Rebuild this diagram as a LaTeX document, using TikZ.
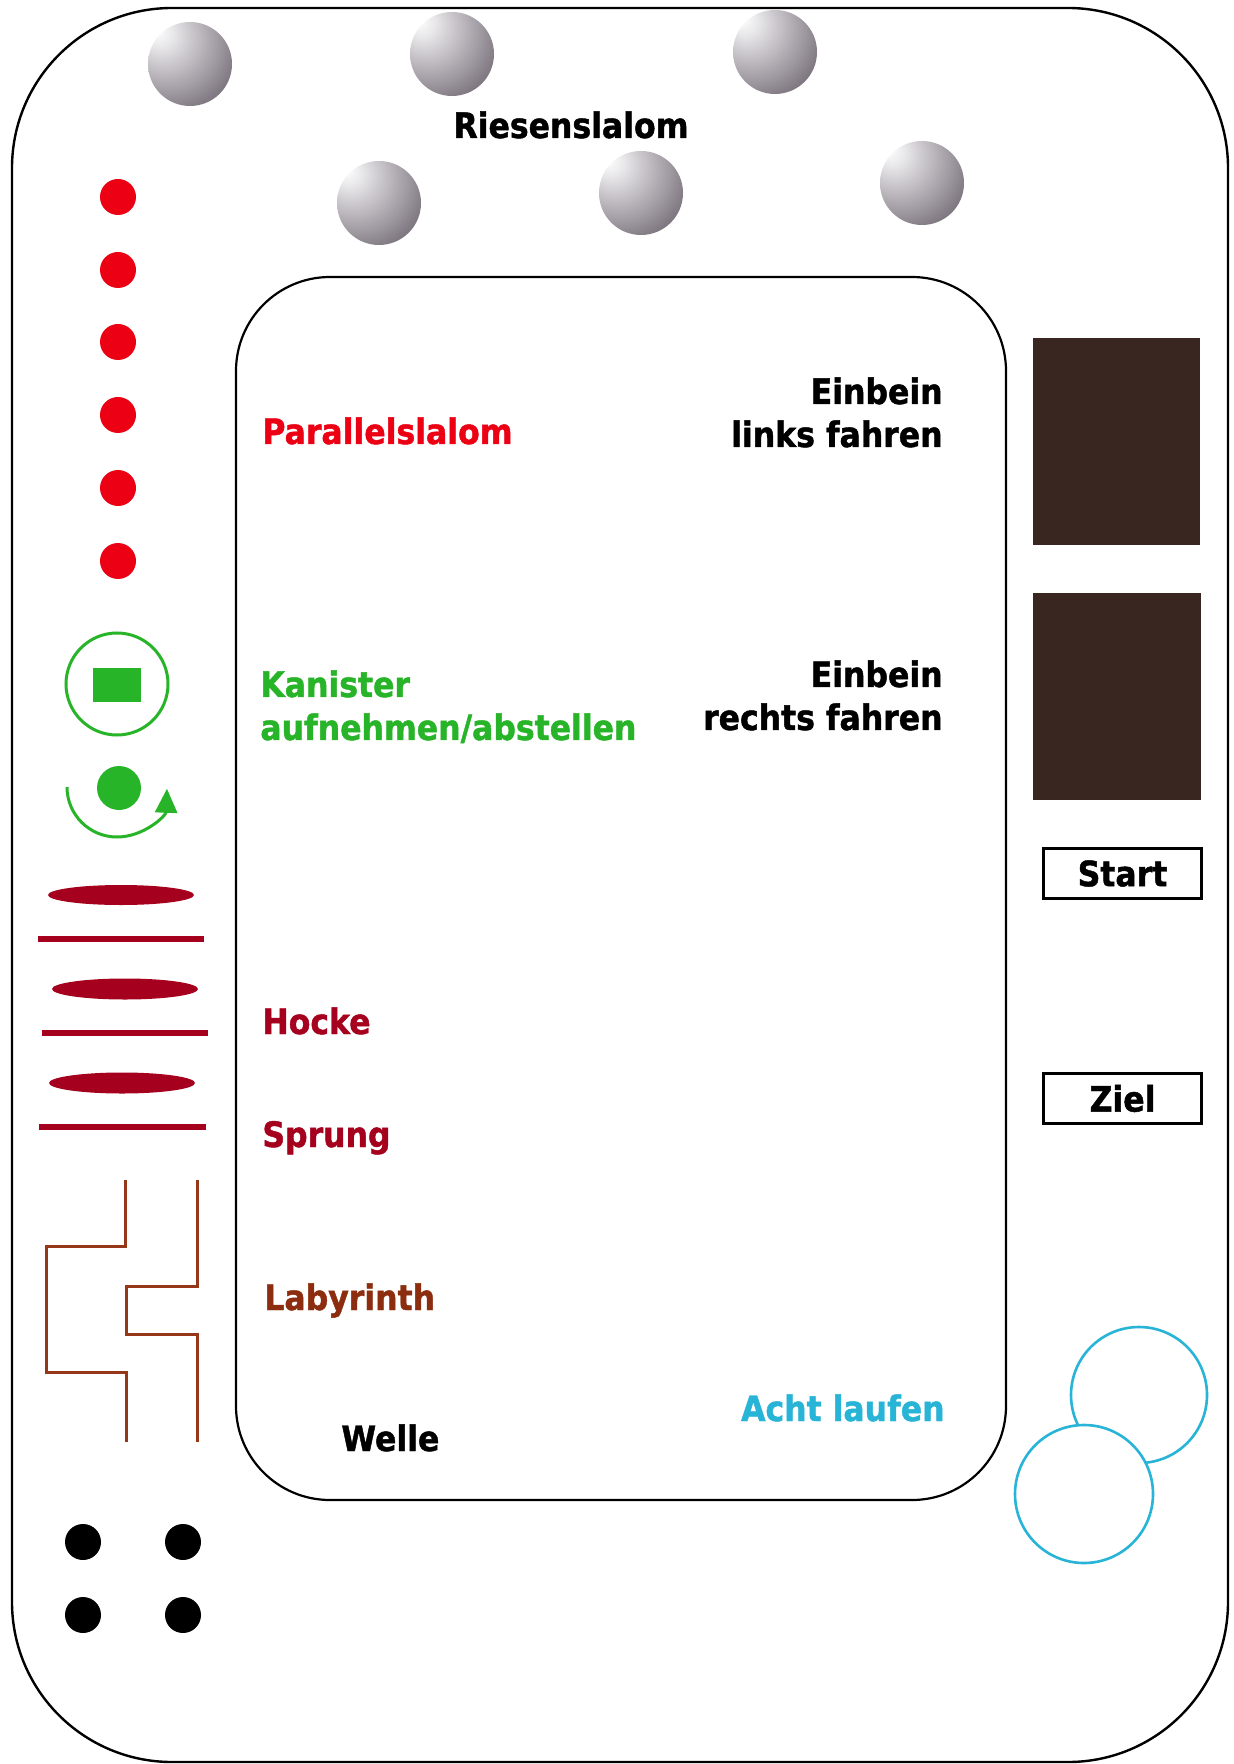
\documentclass[tikz,border=0pt]{standalone}
\usepackage{fontspec}
\newfontfamily\labfont[FakeStretch=0.9,BoldFeatures={FakeBold=1.3}]{DejaVu Sans}
\usetikzlibrary{arrows.meta}
\definecolor{redA}{RGB}{235,0,20}
\definecolor{greenA}{RGB}{40,180,40}
\definecolor{darkredA}{RGB}{165,0,30}
\definecolor{labbrown}{RGB}{140,45,15}
\definecolor{labline}{RGB}{150,55,25}
\definecolor{cyanA}{RGB}{40,180,215}
\definecolor{squarebrown}{RGB}{58,38,33}
\definecolor{sphA}{RGB}{232,231,233}
\definecolor{sphB}{RGB}{160,154,162}
\definecolor{sphC}{RGB}{72,62,74}
\pgfdeclareradialshading{sphere}{\pgfpoint{-20bp}{20bp}}{%
  color(0bp)=(white); color(8bp)=(sphA); color(30bp)=(sphB);
  color(56bp)=(sphC); color(90bp)=(sphC)}
\begin{document}
\begin{tikzpicture}[x=0.5pt,y=-0.5pt,
  lab/.style={font=\labfont\bfseries\fontsize{17.5pt}{21.5pt}\selectfont, inner sep=0pt},
  boxlab/.style={lab, draw=black, line width=1.5pt, minimum width=79pt, minimum height=25pt},
  border/.style={draw=black, line width=1.2pt},
  cone/.style={shading=sphere},
  hurdle/.style={darkredA, line width=3pt},
  maze/.style={labline, line width=1.5pt}]
\useasboundingbox (0,0) rectangle (1233,1764);
\fill[white] (0,0) rectangle (1233,1764);

% outer and inner tracks
\draw[border, rounded corners=80pt] (12,900) -- (12,8) -- (1228,8) -- (1228,1762) -- (12,1762) -- cycle;
\draw[border, line width=1.1pt, rounded corners=47pt] (236,900) -- (236,277) -- (1006,277) -- (1006,1500) -- (236,1500) -- cycle;

% Riesenslalom cones
\foreach \cx/\cy in {190/64,452/54,775/52,379/203,641/193,922/183}
  \shade[cone] (\cx,\cy) circle (42);
\node[lab, anchor=base] (riesen) at (571,138) {Riesenslalom};

% Parallelslalom dots
\foreach \cy in {197,270,342,415,488,561}
  \fill[redA] (118,\cy) circle (18);
\node[lab, text=redA, anchor=base west] (parallel) at (262,444) {Parallelslalom};

% Kanister symbols
\draw[greenA, line width=1.5pt] (117,684) circle (51);
\fill[greenA] (93,668) rectangle (141,702);
\fill[greenA] (119,788) circle (22);
\draw[greenA, line width=1.5pt, -{Triangle[length=12pt,width=11pt]}] (67,787) arc[start angle=180, end angle=2, radius=50];
\node[lab, text=greenA, align=left, anchor=north west] (kanister) at (260,670) {Kanister\\aufnehmen/abstellen};

% Einbein
\node[lab, align=right, anchor=north east] (einlinks) at (943,377) {Einbein\\links fahren};
\node[lab, align=right, anchor=north east] (einrechts) at (943,660) {Einbein\\rechts fahren};
\fill[squarebrown] (1033,338) rectangle (1200,545);
\fill[squarebrown] (1033,593) rectangle (1201,800);

% Start / Ziel
\node[boxlab] (start) at (1122.5,873.5) {Start};
\node[boxlab] (ziel) at (1122.5,1098.5) {Ziel};

% Hocke / Sprung
\fill[darkredA] (121,895) ellipse (73 and 10);
\draw[hurdle] (38,939) -- (204,939);
\fill[darkredA] (125,989) ellipse (73 and 10.5);
\draw[hurdle] (42,1033) -- (208,1033);
\fill[darkredA] (122,1083) ellipse (73 and 10.5);
\draw[hurdle] (39,1127) -- (206,1127);
\node[lab, text=darkredA, anchor=base west] (hocke) at (262,1034) {Hocke};
\node[lab, text=darkredA, anchor=base west] (sprung) at (262,1147) {Sprung};

% Labyrinth
\draw[maze] (125,1180) -- (125,1246) -- (46,1246) -- (46,1372) -- (126,1372) -- (126,1442);
\draw[maze] (197,1180) -- (197,1286) -- (126,1286) -- (126,1334) -- (197,1334) -- (197,1442);
\node[lab, text=labbrown, anchor=base west] (laby) at (264,1310) {Labyrinth};

% Welle
\node[lab, anchor=base west] (welle) at (341,1451) {Welle};
\foreach \cx/\cy in {83/1542,183/1542,83/1615,183/1615}
  \fill[black] (\cx,\cy) circle (18);

% Acht laufen
\draw[cyanA, line width=1.3pt] (1139,1395) circle (68);
\draw[cyanA, line width=1.3pt, fill=white] (1084,1494) circle (69);
\node[lab, text=cyanA, anchor=base east] (acht) at (945,1421) {Acht laufen};
\end{tikzpicture}
\end{document}
